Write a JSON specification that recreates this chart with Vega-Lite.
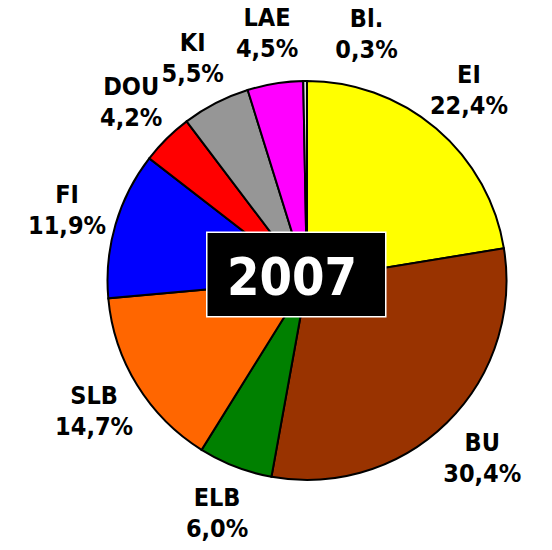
{
  "$schema": "https://vega.github.io/schema/vega-lite/v6.json",
  "autosize": "none",
  "width": 490,
  "height": 539,
  "padding": {"left": 62, "top": 11, "right": 0, "bottom": 0},
  "background": "white",
  "config": {"view": {"stroke": null}},
  "datasets": {
    "shares": [
      {"o": 1, "name": "EI", "pct": 22.4},
      {"o": 2, "name": "BU", "pct": 30.4},
      {"o": 3, "name": "ELB", "pct": 6.0},
      {"o": 4, "name": "SLB", "pct": 14.7},
      {"o": 5, "name": "FI", "pct": 11.9},
      {"o": 6, "name": "DOU", "pct": 4.2},
      {"o": 7, "name": "KI", "pct": 5.5},
      {"o": 8, "name": "LAE", "pct": 4.5},
      {"o": 9, "name": "Bl.", "pct": 0.3}
    ],
    "year": [{"year": "2007"}]
  },
  "layer": [
    {
      "data": {"name": "shares"},
      "mark": {"type": "arc", "outerRadius": 199.5, "stroke": "black", "strokeWidth": 2},
      "encoding": {
        "theta": {"field": "pct", "type": "quantitative", "stack": true},
        "order": {"field": "o", "type": "quantitative"},
        "color": {
          "field": "name", "type": "nominal", "legend": null,
          "scale": {
            "domain": ["EI", "BU", "ELB", "SLB", "FI", "DOU", "KI", "LAE", "Bl."],
            "range": ["#FFFF00", "#993300", "#008000", "#FF6600", "#0000FF", "#FF0000", "#969696", "#FF00FF", "#E0E0E0"]
          }
        }
      }
    },
    {
      "data": {"name": "shares"},
      "transform": [
        {"calculate": "datum.name + '\\n' + replace(format(datum.pct, '.1f'), '.', ',') + '%'", "as": "label"},
        {"calculate": "datum.name == 'Bl.' ? '' : datum.label", "as": "mainLabel"}
      ],
      "mark": {"type": "text", "radius": 250, "dy": -15.5, "font": "DejaVu Sans Condensed, DejaVu Sans", "fontWeight": "bold", "fontSize": 25, "lineBreak": "\n", "lineHeight": 31, "baseline": "middle", "align": "center", "color": "black"},
      "encoding": {
        "theta": {"field": "pct", "type": "quantitative", "stack": true},
        "order": {"field": "o", "type": "quantitative"},
        "text": {"field": "mainLabel"}
      }
    },
    {
      "data": {"name": "shares"},
      "transform": [
        {"calculate": "datum.name == 'Bl.' ? datum.name + '\\n' + replace(format(datum.pct, '.1f'), '.', ',') + '%' : ''", "as": "blLabel"}
      ],
      "mark": {"type": "text", "radius": 262, "dx": 62, "dy": 0, "font": "DejaVu Sans Condensed, DejaVu Sans", "fontWeight": "bold", "fontSize": 25, "lineBreak": "\n", "lineHeight": 31, "baseline": "middle", "align": "center", "color": "black"},
      "encoding": {
        "theta": {"field": "pct", "type": "quantitative", "stack": true},
        "order": {"field": "o", "type": "quantitative"},
        "text": {"field": "blLabel"}
      }
    },
    {
      "data": {"name": "year"},
      "mark": {"type": "point", "shape": "M-1.12,-0.538H0.88V0.404H-1.12Z", "size": 32041, "filled": true, "color": "black", "stroke": "white", "strokeWidth": 1.5, "opacity": 1},
      "encoding": {}
    },
    {
      "data": {"name": "year"},
      "mark": {"type": "text", "font": "DejaVu Sans Condensed, DejaVu Sans", "fontWeight": "bold", "fontSize": 52, "color": "white", "align": "center", "baseline": "alphabetic", "dx": -15, "dy": 14},
      "encoding": {"text": {"field": "year"}}
    }
  ]
}
